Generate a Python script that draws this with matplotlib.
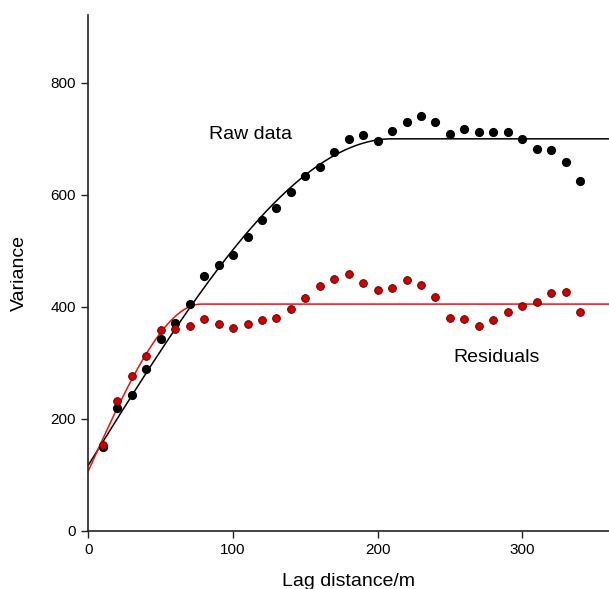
import numpy as np
import matplotlib
matplotlib.use('Agg')
import matplotlib.pyplot as plt

plt.rcParams['font.family'] = ['Liberation Sans', 'DejaVu Sans']

# Datos
lag = [10, 20, 30, 40, 50, 60, 70, 80, 90, 100, 110, 120, 130, 140, 150, 160, 170,
       180, 190, 200, 210, 220, 230, 240, 250, 260, 270, 280, 290, 300, 310, 320, 330, 340]
raw = [150, 219, 243, 289, 342, 371, 406, 456, 475, 492, 524, 556, 577, 605, 634, 649, 676,
       699, 707, 697, 714, 730, 741, 730, 708, 718, 712, 712, 712, 700, 681, 680, 659, 624]
resid = [154, 232, 276, 313, 359, 360, 366, 379, 369, 362, 370, 377, 380, 396, 415, 437, 449,
         458, 443, 430, 433, 448, 439, 417, 380, 379, 366, 376, 391, 401, 409, 425, 426, 390]

# Parametros de los modelos esfericos (pepita, meseta, alcance)
raw_model = (118, 700, 210)
resid_model = (108, 405, 78)


def esferico(h, pepita, meseta, alcance):
    r = np.minimum(h / alcance, 1.0)
    return pepita + (meseta - pepita) * (1.5 * r - 0.5 * r ** 3)


h = np.linspace(0, 360, 721)

fig = plt.figure(figsize=(6.09, 5.89), dpi=100)
ax = fig.add_axes([0.1453, 0.0985, 0.8547, 0.876])

ax.plot(h, esferico(h, *raw_model), color='black', lw=1.1, zorder=2)
ax.plot(h, esferico(h, *resid_model), color='#ee1111', lw=1.1, zorder=2)
ax.plot(lag, raw, 'o', color='black', markersize=5.6, zorder=3)
ax.plot(lag, resid, 'o', color='#cc0000', markeredgecolor='#550000', markeredgewidth=0.6,
        markersize=5.6, zorder=3)

ax.text(112, 707, 'Raw data', fontsize=14, ha='center', va='center')
ax.text(282, 309, 'Residuals', fontsize=14, ha='center', va='center')

ax.set_xlim(0, 360)
ax.set_ylim(0, 921)
ax.set_xticks([0, 100, 200, 300])
ax.set_yticks([0, 200, 400, 600, 800])
ax.tick_params(direction='out', length=5, width=1, labelsize=11, pad=4, color='#222222')
ax.spines['top'].set_visible(False)
ax.spines['right'].set_visible(False)
for lado in ['left', 'bottom']:
    ax.spines[lado].set_linewidth(1.2)
    ax.spines[lado].set_color('#222222')

ax.set_xlabel('Lag distance/m', fontsize=14, labelpad=11)
ax.set_ylabel('Variance', fontsize=14, labelpad=16)

plt.savefig('out.png', dpi=100)
